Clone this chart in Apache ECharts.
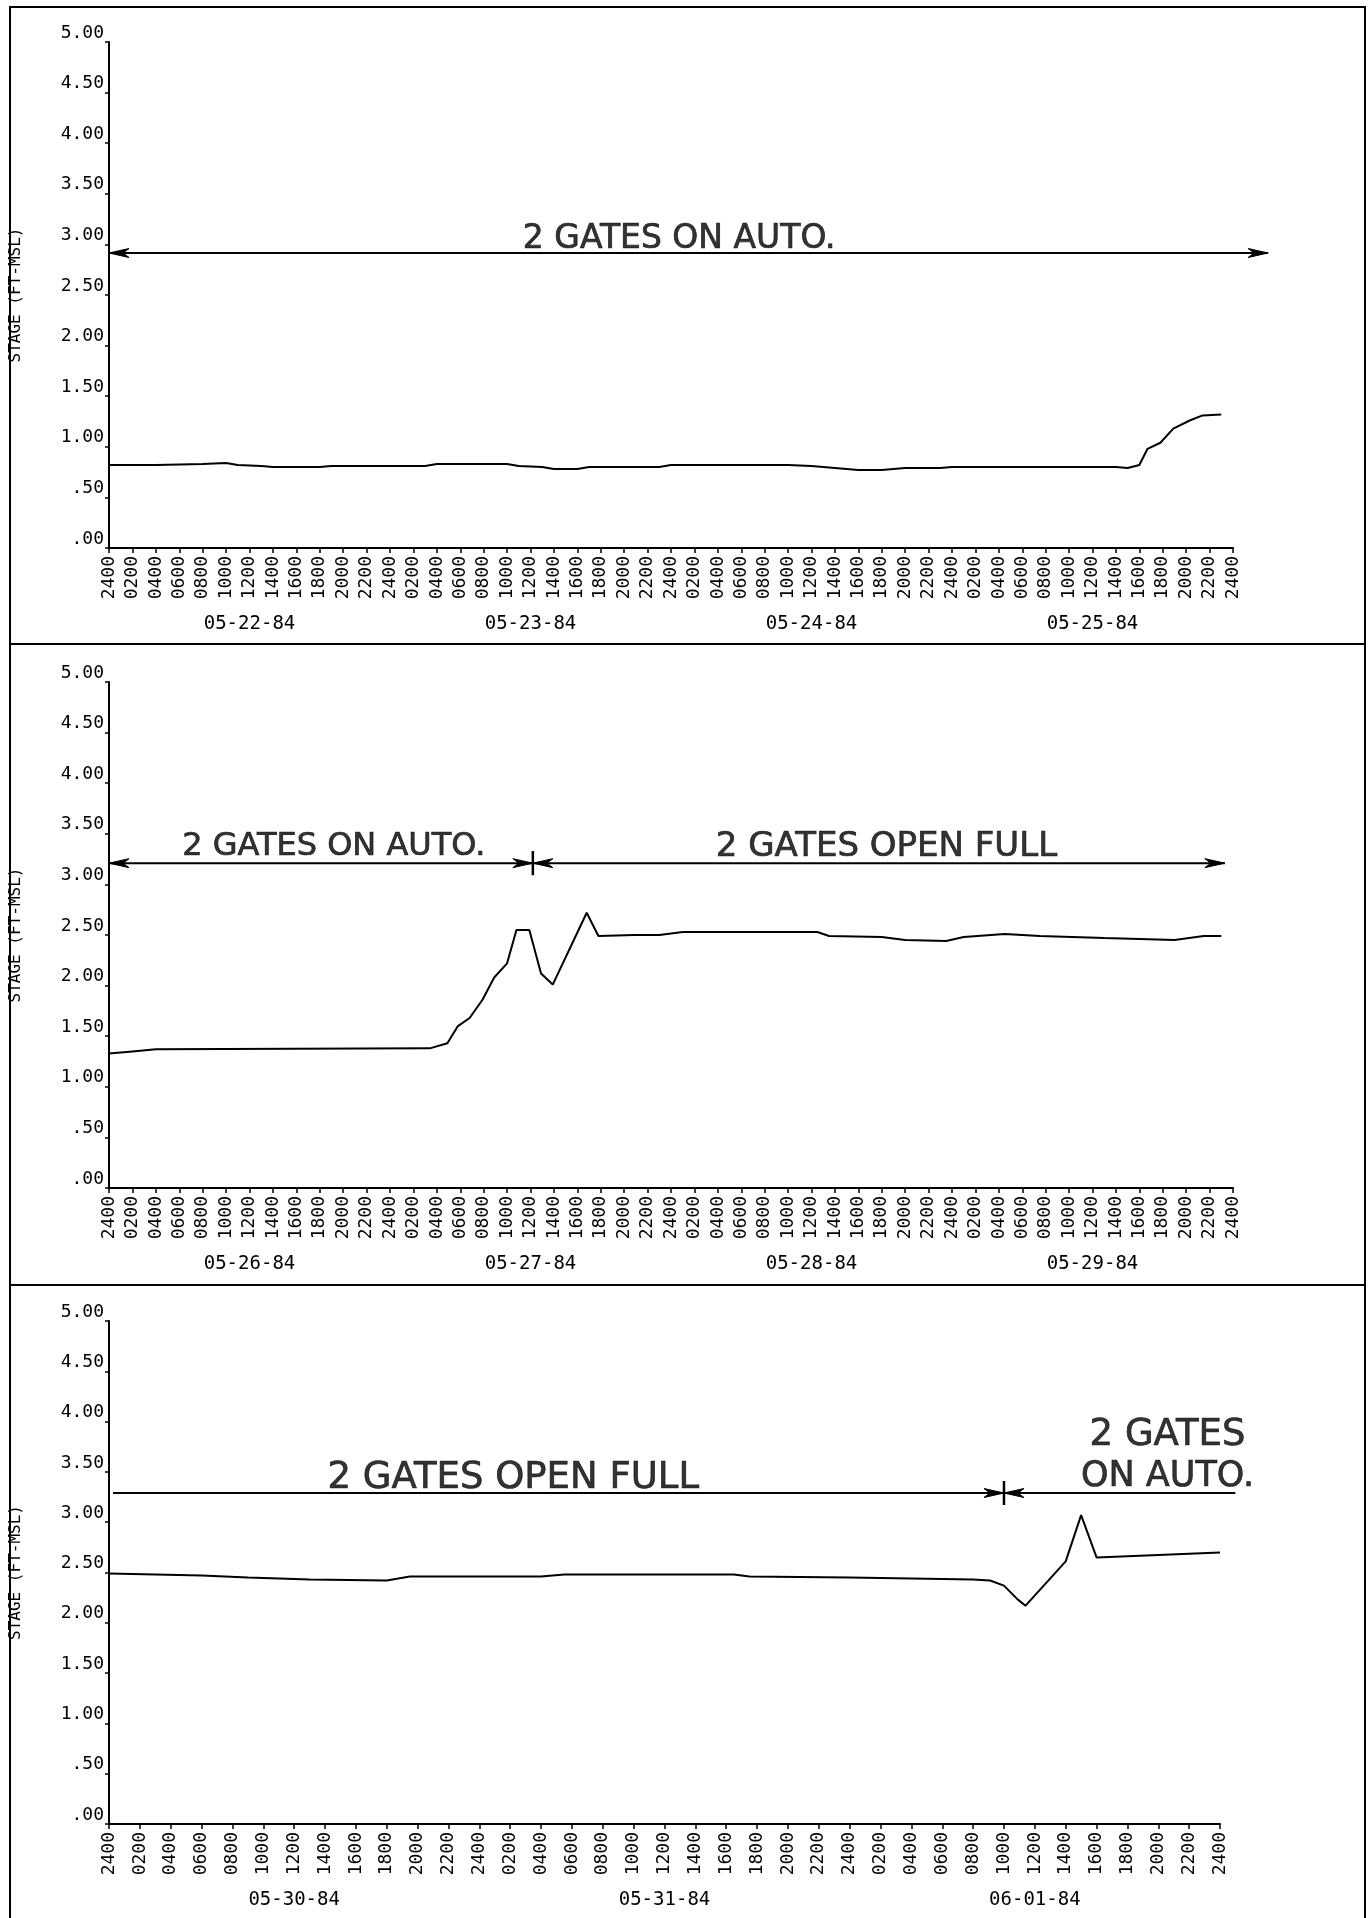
<!DOCTYPE html>
<html><head><meta charset="utf-8">
<script src="https://cdn.jsdelivr.net/npm/echarts@6/dist/echarts.min.js"></script>
<style>html,body{margin:0;padding:0;background:#fff}#c{width:1372px;height:1918px}</style>
</head><body><div id="c"></div>
<script>
// ---------- tick labels ----------
const hourLabels = ['2400','0200','0400','0600','0800','1000','1200','1400','1600','1800','2000','2200'];
const yTickLabels = ['.00','.50','1.00','1.50','2.00','2.50','3.00','3.50','4.00','4.50','5.00'];
const yName = 'STAGE (FT-MSL)';

// ---------- panel 1 ----------
const dates1 = ['05-22-84','05-23-84','05-24-84','05-25-84'];
const hours1 = [0,4,8,10,11,13,14,18,19,27,28,34,35,37,38,40,41,47,48,58,60,62,64,66,68,71,72,86,87,88,88.7,89.8,90.9,92.3,93.4,95];
const stage1 = [0.82,0.82,0.83,0.84,0.82,0.81,0.80,0.80,0.81,0.81,0.83,0.83,0.81,0.80,0.78,0.78,0.80,0.80,0.82,0.82,0.81,0.79,0.77,0.77,0.79,0.79,0.80,0.80,0.79,0.82,0.98,1.04,1.18,1.26,1.31,1.32];
const notes1 = ['2 GATES ON AUTO.'];
const noteHours1 = [48.7];
const noteStage1 = [3.045];
const arrowFrom1 = [0];
const arrowTo1 = [99];
const arrowStage1 = [2.915];
const arrowStartHead1 = [true];
const arrowEndHead1 = [true];
const markers1 = [];

// ---------- panel 2 ----------
const dates2 = ['05-26-84','05-27-84','05-28-84','05-29-84'];
const hours2 = [0,2,4,27.4,28.9,29.8,30.8,31.9,32.9,34.0,34.8,35.9,36.9,37.9,40.8,41.8,44.9,47,49,60.5,61.5,66,68,71.5,73,76.5,79.5,85,91,93.5,95];
const stage2 = [1.33,1.35,1.37,1.38,1.43,1.60,1.68,1.86,2.08,2.22,2.55,2.55,2.12,2.01,2.72,2.49,2.50,2.50,2.53,2.53,2.49,2.48,2.45,2.44,2.48,2.51,2.49,2.47,2.45,2.49,2.49];
const notes2 = ['2 GATES ON AUTO.','2 GATES OPEN FULL'];
const noteHours2 = [19.2,66.4];
const noteStage2 = [3.37,3.37];
const arrowFrom2 = [0,36.2];
const arrowTo2 = [36.2,95.3];
const arrowStage2 = [3.21,3.21];
const arrowStartHead2 = [true,true];
const arrowEndHead2 = [true,true];
const markers2 = [36.2];

// ---------- panel 3 ----------
const dates3 = ['05-30-84','05-31-84','06-01-84'];
const hours3 = [0,6,9,13,18,19.5,28,29.5,40.5,41.5,48,56,57.1,58,58.9,59.4,62.0,63.0,64.0,72];
const stage3 = [2.49,2.47,2.45,2.43,2.42,2.46,2.46,2.48,2.48,2.46,2.45,2.43,2.42,2.37,2.23,2.17,2.61,3.07,2.65,2.70];
const notes3 = ['2 GATES OPEN FULL','2 GATES','ON AUTO.'];
const noteHours3 = [26.2,68.6,68.6];
const noteStage3 = [3.44,3.86,3.45];
const arrowFrom3 = [0.26,58];
const arrowTo3 = [58,73];
const arrowStage3 = [3.29,3.29];
const arrowStartHead3 = [false,true];
const arrowEndHead3 = [true,false];
const markers3 = [58];

// ---------- build ----------
const MONO = '"DejaVu Sans Mono", "Liberation Mono", monospace';
const HAND = '"DejaVu Sans", "Liberation Sans", sans-serif';

const panels = [
  {dates:dates1, hours:hours1, stage:stage1, notes:notes1, nh:noteHours1, ns:noteStage1, af:arrowFrom1, at:arrowTo1, as:arrowStage1, ash:arrowStartHead1, aeh:arrowEndHead1, markers:markers1, days:4, noteSize:[33],
   grid:{left:108, top:42, width:1125, height:506}},
  {dates:dates2, hours:hours2, stage:stage2, notes:notes2, nh:noteHours2, ns:noteStage2, af:arrowFrom2, at:arrowTo2, as:arrowStage2, ash:arrowStartHead2, aeh:arrowEndHead2, markers:markers2, days:4, noteSize:[32,34],
   grid:{left:108, top:682, width:1125, height:506}},
  {dates:dates3, hours:hours3, stage:stage3, notes:notes3, nh:noteHours3, ns:noteStage3, af:arrowFrom3, at:arrowTo3, as:arrowStage3, ash:arrowStartHead3, aeh:arrowEndHead3, markers:markers3, days:3, noteSize:[37,37,35],
   grid:{left:108, top:1321, width:1112, height:503}}
];

const grids = [], xAxes = [], yAxes = [], series = [];
panels.forEach((p, i) => {
  grids.push(Object.assign({containLabel:false}, p.grid));
  const maxH = p.days * 24;
  xAxes.push({
    type:'value', gridIndex:i, min:0, max:maxH, interval:2, position:'bottom',
    axisLine:{show:true, onZero:false, lineStyle:{color:'#000', width:2}},
    axisTick:{show:true, length:5, lineStyle:{color:'#000', width:1.5}},
    splitLine:{show:false},
    axisLabel:{rotate:90, margin:8, color:'#000', fontFamily:MONO, fontSize:18,
      formatter:v => hourLabels[(Math.round(v) % 24) / 2]}
  });
  const dts = p.dates;
  xAxes.push({
    type:'value', gridIndex:i, min:0, max:maxH, interval:12, position:'bottom', offset:0,
    axisLine:{show:false}, axisTick:{show:false}, splitLine:{show:false},
    axisLabel:{margin:67, color:'#000', fontFamily:MONO, fontSize:19,
      formatter:v => (Math.round(v) % 24 === 12) ? dts[(Math.round(v) - 12) / 24] : ''}
  });
  yAxes.push({
    type:'value', gridIndex:i, min:0, max:5, interval:0.5,
    name:yName, nameLocation:'middle', nameGap:85, nameRotate:90,
    nameTextStyle:{color:'#000', fontFamily:MONO, fontSize:16},
    axisLine:{show:true, onZero:false, lineStyle:{color:'#000', width:2}},
    axisTick:{show:true, length:4, lineStyle:{color:'#000', width:1.5}},
    splitLine:{show:false},
    axisLabel:{margin:5, color:'#000', fontFamily:MONO, fontSize:18, verticalAlign:'bottom',
      formatter:v => yTickLabels[Math.round(v * 2)]}
  });
  const xi = i * 2, yi = i;
  series.push({
    type:'line', xAxisIndex:xi, yAxisIndex:yi, showSymbol:false, symbol:'none',
    lineStyle:{color:'#000', width:2}, silent:true,
    data:p.hours.map((h, k) => [h, p.stage[k]])
  });
  p.markers.forEach(m => {
    const yv = p.as[0];
    series.push({
      type:'line', xAxisIndex:xi, yAxisIndex:yi, clip:false, silent:true, symbol:'none',
      lineStyle:{color:'#000', width:2.5},
      data:[[m, yv - 0.12], [m, yv + 0.12]]
    });
  });
  series.push({
    type:'scatter', xAxisIndex:xi, yAxisIndex:yi, silent:true, symbolSize:1,
    itemStyle:{color:'rgba(0,0,0,0)'},
    data:p.notes.map((t, k) => ({name:t, value:[p.nh[k], p.ns[k]],
      label:{fontSize:p.noteSize[k]}})),
    label:{show:true, position:'inside', color:'#000', fontFamily:HAND,
      textBorderColor:'#000', textBorderWidth:0.7,
      formatter:d => d.name}
  });
});

const frame = [
  {type:'rect', shape:{x:10, y:7, width:1355, height:1930}, style:{fill:'none', stroke:'#000', lineWidth:2}, silent:true},
  {type:'line', shape:{x1:10, y1:644, x2:1365, y2:644}, style:{stroke:'#000', lineWidth:2}, silent:true},
  {type:'line', shape:{x1:10, y1:1285, x2:1365, y2:1285}, style:{stroke:'#000', lineWidth:2}, silent:true}
];

const chart = echarts.init(document.getElementById('c'), null, {renderer:'canvas'});
chart.setOption({
  backgroundColor:'#fff',
  animation:false,
  grid:grids, xAxis:xAxes, yAxis:yAxes, series:series,
  graphic:frame
});

// annotation arrows: positioned through the axes' own scales
function head(tip, dir) {
  const L = 20, W = 4.5, N = 14;
  return {type:'polygon', silent:true, z:10,
    shape:{points:[[tip[0], tip[1]], [tip[0] - dir * L, tip[1] - W], [tip[0] - dir * N, tip[1]], [tip[0] - dir * L, tip[1] + W]]},
    style:{fill:'#000', stroke:'#000', lineWidth:1}};
}
const extra = [];
panels.forEach((p, i) => {
  const finder = {xAxisIndex:i * 2, yAxisIndex:i};
  p.af.forEach((a, k) => {
    const s = chart.convertToPixel(finder, [a, p.as[k]]);
    const e = chart.convertToPixel(finder, [p.at[k], p.as[k]]);
    extra.push({type:'line', silent:true, z:10, shape:{x1:s[0], y1:s[1], x2:e[0], y2:e[1]}, style:{stroke:'#000', lineWidth:2}});
    if (p.ash[k]) extra.push(head(s, -1));
    if (p.aeh[k]) extra.push(head(e, 1));
  });
});
chart.setOption({graphic:frame.concat(extra)});
</script>
</body></html>
